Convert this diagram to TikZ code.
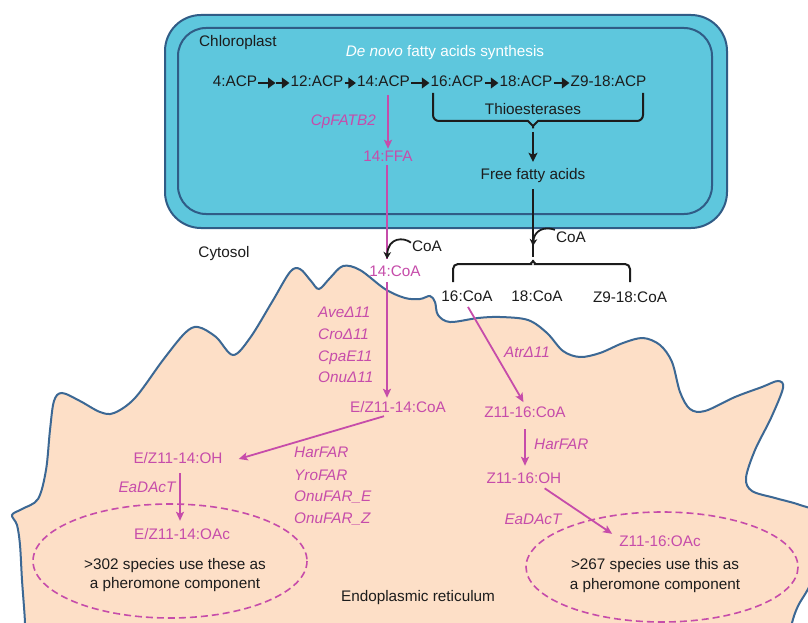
\documentclass[tikz,border=0pt]{standalone}
\usepackage{fontspec}
\setmainfont{Liberation Sans}
\usetikzlibrary{arrows.meta}

\definecolor{plastfill}{RGB}{94,199,221}
\definecolor{plastedge}{RGB}{48,92,134}
\definecolor{erfill}{RGB}{253,223,199}
\definecolor{eredge}{RGB}{60,104,148}
\definecolor{enzpink}{RGB}{198,76,170}
\definecolor{ink}{RGB}{28,28,28}

\begin{document}
\begin{tikzpicture}[x=1pt,y=-1pt,
  lbl/.style={font=\fontsize{15.3}{18}\selectfont, inner sep=1pt, text height=11pt, text depth=3pt},
  blk/.style={lbl, text=ink},
  pnk/.style={lbl, text=enzpink},
  enz/.style={pnk, font=\fontsize{15.3}{18}\selectfont\itshape},
  chainarrow/.style={-{Triangle[length=7.5pt,width=10.5pt]}, line width=2.6pt, draw=ink},
  parrow/.style={-{Stealth[length=9pt,width=8pt,inset=2pt]}, line width=1.8pt, draw=enzpink},
  pline/.style={line width=1.8pt, draw=enzpink},
  bline/.style={line width=2pt, draw=ink},
  barrow/.style={-{Stealth[length=9pt,width=9pt,inset=2pt]}, line width=2pt, draw=ink},
  bcurve/.style={-{Stealth[length=7pt,width=7.5pt,inset=2pt]}, line width=1.8pt, draw=ink},
  membrane/.style={line width=2pt, draw=plastedge},
  dashring/.style={line width=1.6pt, draw=enzpink, dash pattern=on 7pt off 4pt},
]
\useasboundingbox (0,0) rectangle (808,623);

% endoplasmic reticulum outline
\begin{scope}
\clip (0,0) rectangle (808,623);
\fill[white] (0,0) rectangle (808,623);
\filldraw[fill=erfill, draw=eredge, line width=2pt]
  plot[smooth, tension=0.55] coordinates {
    (24,640) (25,623) (22,580) (20,545) (17,525) (12,515) (22,509) (38,499)
    (46,470) (50,430) (54,401) (62,393) (80,401) (100,412) (114,413) (135,398)
    (163,360) (185,333) (198,327) (216,337) (233,355) (250,338) (272,302)
    (290,272) (300,269) (311,281) (319,289) (330,278) (343,266) (360,270)
    (385,289) (405,298) (420,299) (430,296) (435,302) (438,315) (450,322)
    (478,318) (500,317) (528,320) (547,333) (563,351) (580,357) (600,353)
    (623,343) (643,338) (660,345) (672,362) (680,392) (690,409) (705,411)
    (735,397) (762,387) (778,381) (783,388) (771,418) (755,450) (746,478)
    (752,491) (775,498) (800,505) (816,514) (822,552) (810,585) (798,606)
    (792,623) (790,640)
  } -- cycle;
\end{scope}

% chloroplast envelope
\filldraw[membrane, fill=plastfill, rounded corners=36pt] (165,15) rectangle (727,228);
\draw[membrane, rounded corners=28pt] (178,28) rectangle (712,214);

% chloroplast labels and acyl-ACP chain
\node[blk, anchor=west] (chl) at (198,43) {Chloroplast};
\node[lbl, text=white] (denovo) at (445,53) {\textit{De novo} fatty acids synthesis};
\node[blk] (a4) at (235,83) {4:ACP};
\node[blk] (a12) at (317,83) {12:ACP};
\node[blk] (a14) at (383.5,83) {14:ACP};
\node[blk] (a16) at (457,83) {16:ACP};
\node[blk] (a18) at (526,83) {18:ACP};
\node[blk] (a189) at (608.5,83) {Z9-18:ACP};
\coordinate (m1) at (275.5,83);
\draw[chainarrow] (a4.east) -- (m1);
\draw[chainarrow] (m1) -- (a12.west);
\draw[chainarrow] (a12.east) -- (a14.west);
\draw[chainarrow] (a14.east) -- (a16.west);
\draw[chainarrow] (a16.east) -- (a18.west);
\draw[chainarrow] (a18.east) -- (a189.west);

% thioesterase branch
\node[blk] (thio) at (533,110) {Thioesterases};
\node[blk] (ffa2) at (533,175) {Free fatty acids};
\coordinate (tip1) at (533,132);
\draw[bline, rounded corners=6pt] (433,93) -- (433,121) -- (522,121)
  to[out=0,in=90] (tip1) to[out=90,in=180] (544,121) -- (643,121) -- (643,93);
\draw[barrow, shorten >=5pt] (tip1) -- (ffa2.north);

% CpFATB2 branch
\node[enz, anchor=east] (fatb) at (377,122) {CpFATB2};
\node[pnk] (ffa) at (388,157) {14:FFA};
\draw[parrow, shorten <=4pt] (ffa |- a14.south) -- (ffa.north);

% cytosol
\node[blk] (cyto) at (224,253) {Cytosol};
\node[blk] (coaA) at (427,247) {CoA};
\node[blk] (coaB) at (571,238) {CoA};
\node[pnk] (coa14) at (395,272) {14:CoA};
\coordinate (j1) at (387,259);
\draw[pline] (ffa.south -| j1) -- (j1);
\draw[bcurve] (coaA.165) .. controls (404,237) and (388,237) .. (j1);

\coordinate (j2) at (533,246);
\coordinate (tip2) at (533,257);
\draw[bline, shorten <=6pt] (ffa2.south) -- (tip2);
\draw[bline, rounded corners=5pt] (453,282) -- (453,264) -- (526,264)
  to[out=0,in=-90] (tip2) to[out=-90,in=180] (540,264) -- (630,264) -- (630,282);
\draw[bcurve] (coaB.north west) .. controls (545,226) and (534,230) .. (j2);

\node[blk] (c16) at (467,297) {16:CoA};
\node[blk] (c18) at (537,297) {18:CoA};
\node[blk] (c189) at (630,298) {Z9-18:CoA};

% desaturation of 14:CoA
\node[enz, anchor=west] (d1) at (317,313) {AveΔ11};
\node[enz, anchor=west] (d2) at (317,335) {CroΔ11};
\node[enz, anchor=west] (d3) at (317,357) {CpaE11};
\node[enz, anchor=west] (d4) at (317,378) {OnuΔ11};
\node[pnk] (ez14coa) at (398,408) {E/Z11-14:CoA};
\draw[parrow, shorten <=2pt, shorten >=2pt] (j1 |- coa14.south) -- (j1 |- ez14coa.north);

% Z11-16 branch
\node[enz] (atr) at (527,353) {AtrΔ11};
\node[pnk] (z16coa) at (525,413) {Z11-16:CoA};
\draw[parrow, shorten <=2pt, shorten >=3pt] (c16.south) -- (z16coa.north);
\node[enz, anchor=west] (harR) at (533,445) {HarFAR};
\node[pnk] (z16oh) at (524,479) {Z11-16:OH};
\draw[parrow, shorten <=8pt, shorten >=5pt] (z16coa.south) -- (z16coa.south |- z16oh.north);
\node[enz] (eaR) at (533,520) {EaDAcT};
\node[pnk] (z16oac) at (660,542) {Z11-16:OAc};
\draw[parrow, shorten <=2pt] ([xshift=19pt]z16oh.south) -- ([xshift=-6pt]z16oac.north west);
\node[blk] (n267a) at (655,565) {>267 species use this as};
\node[blk] (n267b) at (655,585) {a pheromone component};
\draw[dashring] (662,567) ellipse [x radius=136, y radius=55];

% E/Z11-14 branch
\node[pnk] (ez14oh) at (178,459) {E/Z11-14:OH};
\draw[parrow] ([xshift=-14pt]ez14coa.south) -- ([xshift=15pt]ez14oh.east);
\node[enz, anchor=west] (f1) at (293,453) {HarFAR};
\node[enz, anchor=west] (f2) at (293,476) {YroFAR};
\node[enz, anchor=west] (f3) at (293,497) {OnuFAR\_E};
\node[enz, anchor=west] (f4) at (293,519) {OnuFAR\_Z};
\node[enz] (eaL) at (147,488) {EaDAcT};
\node[pnk] (ez14oac) at (182,535) {E/Z11-14:OAc};
\coordinate (eaxL) at (180,0);
\draw[parrow, shorten <=6pt, shorten >=6pt] (eaxL |- ez14oh.south) -- (eaxL |- ez14oac.north);
\node[blk] (n302a) at (175,565) {>302 species use these as};
\node[blk] (n302b) at (175,584) {a pheromone component};
\draw[dashring] (170,561) ellipse [x radius=137, y radius=57];

\node[blk] (er) at (418,597) {Endoplasmic reticulum};
\end{tikzpicture}
\end{document}
